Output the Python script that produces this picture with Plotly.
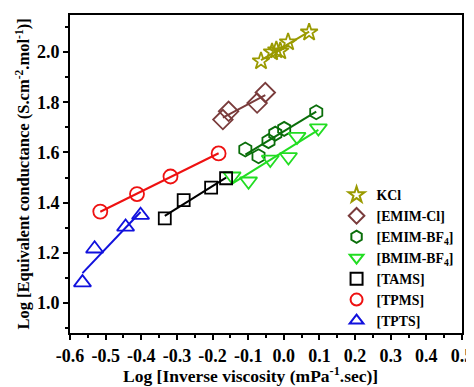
import numpy as np
import plotly.graph_objects as go

# ---- data ----
names = ["KCl", "[EMIM-Cl]", "[EMIM-BF<sub>4</sub>]", "[BMIM-BF<sub>4</sub>]", "[TAMS]", "[TPMS]", "[TPTS]"]

kcl_x = [-0.064, -0.033, -0.021, -0.010, 0.012, 0.071]
kcl_y = [1.964, 2.000, 2.008, 2.004, 2.040, 2.079]

emimcl_x = [-0.171, -0.155, -0.075, -0.052]
emimcl_y = [1.731, 1.764, 1.797, 1.839]

emimbf4_x = [-0.108, -0.071, -0.043, -0.024, 0.001, 0.091]
emimbf4_y = [1.612, 1.585, 1.645, 1.675, 1.694, 1.760]

bmimbf4_x = [-0.145, -0.099, -0.038, 0.013, 0.037, 0.097]
bmimbf4_y = [1.505, 1.485, 1.572, 1.582, 1.663, 1.697]

tams_x = [-0.334, -0.281, -0.204, -0.162]
tams_y = [1.337, 1.410, 1.460, 1.497]

tpms_x = [-0.515, -0.412, -0.318, -0.183]
tpms_y = [1.364, 1.434, 1.504, 1.596]

tpts_x = [-0.565, -0.531, -0.444, -0.402]
tpts_y = [1.081, 1.216, 1.303, 1.350]

x_ticks = [-0.6, -0.5, -0.4, -0.3, -0.2, -0.1, 0.0, 0.1, 0.2, 0.3, 0.4, 0.5]
y_ticks = [1.0, 1.2, 1.4, 1.6, 1.8, 2.0]

series = [
    (names[0], kcl_x, kcl_y, "#9a9a00", "star-open", 13),
    (names[1], emimcl_x, emimcl_y, "#7a3c3c", "diamond-open", 15),
    (names[2], emimbf4_x, emimbf4_y, "#0a6e0a", "hexagon-open", 14),
    (names[3], bmimbf4_x, bmimbf4_y, "#22dd22", "triangle-down-open", 15),
    (names[4], tams_x, tams_y, "#000000", "square-open", 12),
    (names[5], tpms_x, tpms_y, "#ee1111", "circle-open", 14),
    (names[6], tpts_x, tpts_y, "#1111dd", "triangle-up-open", 15),
]

fig = go.Figure()
for name, xs, ys, color, sym, size in series:
    xs_a = np.array(xs)
    ys_a = np.array(ys)
    m, c = np.polyfit(xs_a, ys_a, 1)
    xl = np.array([xs_a.min(), xs_a.max()])
    fig.add_trace(go.Scatter(x=xl, y=m * xl + c, mode="lines",
                             line=dict(color=color, width=2),
                             showlegend=False, hoverinfo="skip"))
    fig.add_trace(go.Scatter(x=xs, y=ys, mode="markers", name="<b>" + name + "</b>",
                             marker=dict(symbol=sym, size=size, color=color,
                                         line=dict(width=1.8, color=color))))

font_family = "Liberation Serif, Times New Roman, serif"
axis_common = dict(
    showline=True, linecolor="black", linewidth=2, mirror=True,
    ticks="outside", ticklen=5, tickwidth=2, tickcolor="black",
    showgrid=False, zeroline=False, automargin=False,
    tickfont=dict(family=font_family, size=18, color="black"),
)

# the page body adds an 8px offset, so the figure is sized/placed to compensate
fig.update_layout(
    width=466, height=379,
    margin=dict(l=61.5, r=12, t=7, b=54),
    paper_bgcolor="white", plot_bgcolor="white",
    font=dict(family=font_family, color="black"),
    xaxis=dict(range=[-0.6, 0.5], tickmode="array", tickvals=x_ticks,
               ticktext=["<b>%.1f</b>" % v for v in x_ticks],
               minor=dict(dtick=0.05, tick0=-0.6, ticks="outside", ticklen=3, tickwidth=2, tickcolor="black"),
               **axis_common),
    yaxis=dict(range=[0.88, 2.148], tickmode="array", tickvals=y_ticks,
               ticktext=["<b>%.1f</b>" % v for v in y_ticks],
               minor=dict(dtick=0.1, tick0=1.0, ticks="outside", ticklen=3, tickwidth=2, tickcolor="black"),
               **axis_common),
    legend=dict(x=0.68, y=0.483, xanchor="left", yanchor="top",
                bgcolor="rgba(0,0,0,0)", tracegroupgap=0, itemsizing="constant",
                font=dict(size=13.8, family=font_family, color="black")),
    showlegend=True,
    annotations=[
        dict(text="<b>Log [Inverse viscosity (mPa<sup>-1</sup>.sec)]</b>",
             xref="paper", yref="paper", x=0.46, y=-0.133,
             xanchor="center", yanchor="middle", showarrow=False,
             font=dict(size=17.5, family=font_family, color="black")),
        dict(text="<b>Log [Equivalent conductance (S.cm<sup>-2</sup>.mol<sup>-1</sup>)]</b>",
             xref="paper", yref="paper", x=-0.121, y=0.5, textangle=-90,
             xanchor="center", yanchor="middle", showarrow=False,
             font=dict(size=16.5, family=font_family, color="black")),
    ],
)

fig.write_html("out.html")
